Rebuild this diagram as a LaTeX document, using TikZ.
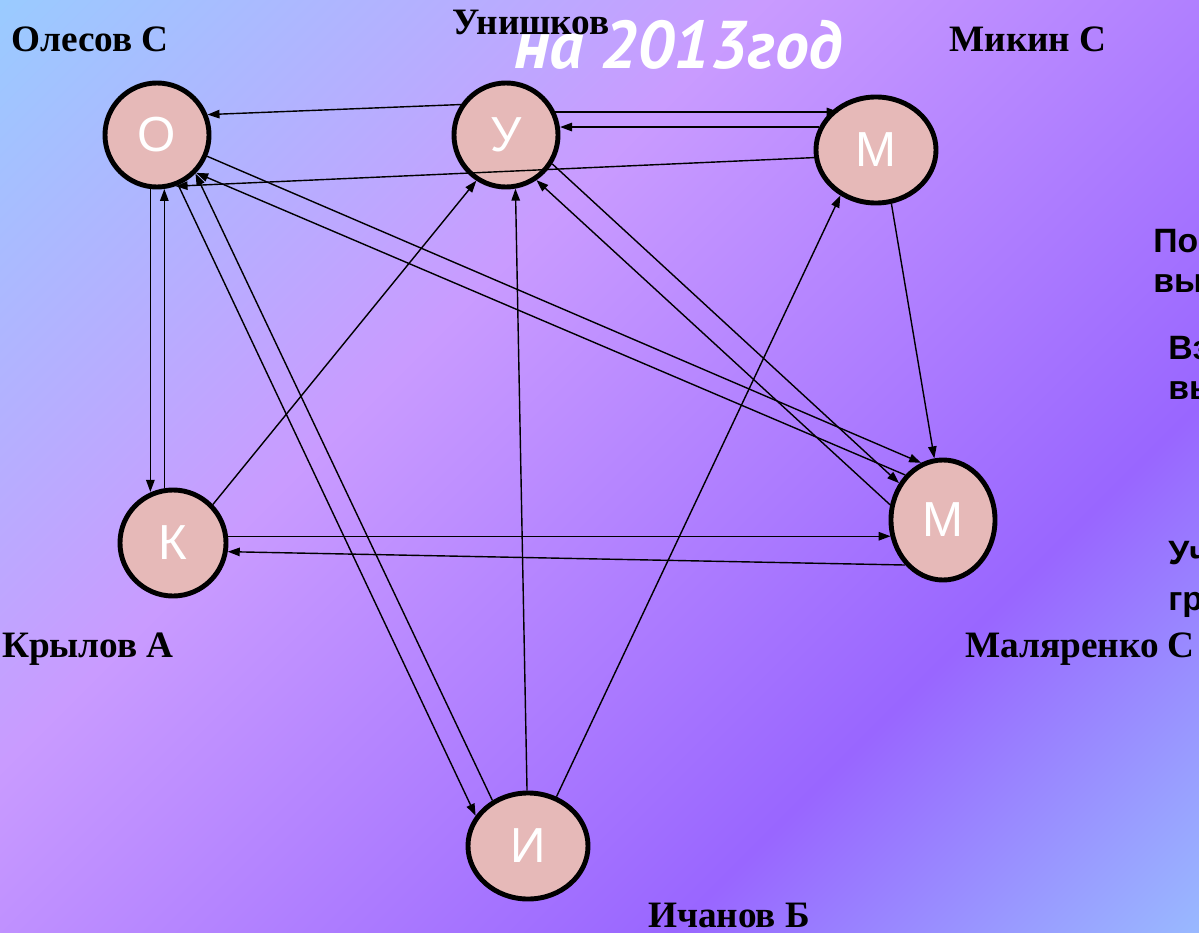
\documentclass[tikz,border=0pt]{standalone}
\usepackage{fontspec}
\setmainfont{Liberation Serif}
\newfontfamily\arialfont{Liberation Sans}
\newfontfamily\titlefont{PT Sans}
\usepackage{tikz}
\usetikzlibrary{shapes,calc,arrows.meta}
\usepackage{xcolor}

\definecolor{nodePink}{HTML}{E6B9B8}
\definecolor{bgA}{HTML}{99CCFF}
\definecolor{bgB}{HTML}{C99BFF}
\definecolor{bgC}{HTML}{9966FF}
\definecolor{bgD}{HTML}{99BBFF}

\begin{document}
\begin{tikzpicture}[%
    x=0.025cm, y=-0.025cm,
    member/.style={
      ellipse,
      draw=black,
      line width=3.5pt,
      fill=nodePink,
      text=white,
      inner sep=0pt,
      font=\arialfont\fontsize{35}{35}\selectfont
    },
    personName/.style={
      anchor=base,
      inner sep=0pt,
      font=\bfseries\fontsize{26.5}{26.5}\selectfont
    },
    hint/.style={
      anchor=base west,
      inner sep=0pt,
      font=\arialfont\bfseries\fontsize{24}{24}\selectfont
    },
    link/.style={
      line width=1pt,
      -{Triangle[length=8.5pt,width=6pt]}
    }
  ]
\pgfdeclarehorizontalshading{bgFlow}{100bp}{%
    color(0bp)=(bgA); color(14bp)=(bgA); color(40bp)=(bgB);
    color(68bp)=(bgC); color(86bp)=(bgD); color(100bp)=(bgD)}

    % Big background
    \useasboundingbox (0,0) rectangle (1199,933);
    \shade[shading=bgFlow, shading angle=-45] (0,0) rectangle (1199,933);

    \draw (514,69) node[anchor=base west, inner sep=0pt, text=white,
            font=\titlefont\bfseries\itshape\fontsize{48}{48}\selectfont] (T) {на 2013год};

    \draw (157,135) node[member, minimum width=2.6cm, minimum height=2.6cm] (O) {О}
          (506,135) node[member, minimum width=2.6cm, minimum height=2.6cm] (U) {У}
          (876,150) node[member, minimum width=3.0cm, minimum height=2.65cm] (Mi) {М}
          (173,543) node[member, minimum width=2.65cm, minimum height=2.65cm] (K) {К}
          (943,520) node[member, minimum width=2.6cm, minimum height=3.0cm] (Ma) {М}
          (528,846) node[member, minimum width=3.0cm, minimum height=2.65cm] (I) {И};

    \draw (90,52) node[personName] (OName) {Олесов С}
          (531,35) node[personName] (UName) {Унишков}
          (1028,52) node[personName] (MiName) {Микин С}
          (88,657) node[personName] (KName) {Крылов А}
          (1080,657) node[personName] (MaName) {Маляренко С}
          (729,927) node[personName] (IName) {Ичанов Б};

    \draw (1153,252) node[hint] (H1) {По}
          (1153,292) node[hint] (H2) {вы}
          (1168,359) node[hint] (H3) {Вз}
          (1168,399) node[hint] (H4) {вы}
          (1168,564) node[hint] (H5) {Уч}
          (1168,610) node[hint] (H6) {гр};

    % arrows between members
    \draw[link] (U.146) -- (O.22);
    \draw[link] (U.25) -- (U.25 -| Mi.130);
    \draw[link] (Mi.158) -- (Mi.158 -| U.7);
    \draw[link] (Mi.187) -- (O.290);
    \draw[link] (O.337) -- (Ma.111);
    \draw[link] (Ma.130) -- (O.316);
    \draw[link] (O.263) -- (O.263 |- K.113);
    \draw[link] (K.99) -- (K.99 |- O.278);
    \draw[link] (K.44) -- (U.237);
    \draw[link] (K.7) -- (K.7 -| Ma.198);
    \draw[link] (Ma.230) -- (K.351);
    \draw[link] (O.293) -- (I.150);
    \draw[link] (I.128) -- (O.315);
    \draw[link] (I.91) -- (U.280);
    \draw[link] (I.60) -- (Mi.232);
    \draw[link] (U.328) -- (Ma.140);
    \draw[link] (Ma.164) -- (U.304);
    \draw[link] (Mi.286) -- (Ma.98);
\end{tikzpicture}
\end{document}
